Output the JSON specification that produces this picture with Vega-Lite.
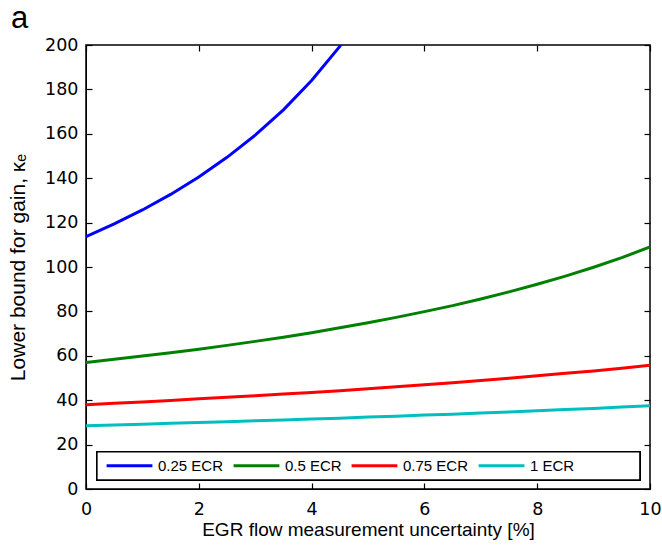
{
  "$schema": "https://vega.github.io/schema/vega-lite/v6.json",
  "autosize": "none",
  "padding": {"left": 86, "top": 45, "right": 12, "bottom": 63},
  "width": 564,
  "height": 444,
  "title": {"text": "a", "anchor": "start", "frame": "group", "dx": -75, "dy": 29, "offset": 0, "fontSize": 31, "fontWeight": "normal", "font": "Liberation Sans", "color": "black"},
  "config": {
    "view": {"stroke": "black", "strokeWidth": 1.5},
    "font": "Liberation Sans",
    "axis": {"grid": false, "labelFlush": false, "domainColor": "black", "tickColor": "black", "tickSize": -6, "tickWidth": 1.2, "labelFontSize": 17.5, "labelColor": "black", "titleFontSize": 19, "titleFontWeight": "normal", "titleColor": "black", "labelFont": "DejaVu Sans", "titleFont": "Liberation Sans"}
  },
  "data": {"values": [
    {"x":0,"k":113.7,"s":"0.25 ECR"},{"x":0.5,"k":119.4,"s":"0.25 ECR"},{"x":1,"k":125.7,"s":"0.25 ECR"},{"x":1.5,"k":132.7,"s":"0.25 ECR"},{"x":2,"k":140.5,"s":"0.25 ECR"},{"x":2.5,"k":149.4,"s":"0.25 ECR"},{"x":3,"k":159.4,"s":"0.25 ECR"},{"x":3.5,"k":170.8,"s":"0.25 ECR"},{"x":4,"k":184.0,"s":"0.25 ECR"},{"x":4.5,"k":199.4,"s":"0.25 ECR"},{"x":5,"k":217.6,"s":"0.25 ECR"},
    {"x":0,"k":57.0,"s":"0.5 ECR"},{"x":0.5,"k":58.4,"s":"0.5 ECR"},{"x":1,"k":59.9,"s":"0.5 ECR"},{"x":1.5,"k":61.4,"s":"0.5 ECR"},{"x":2,"k":63.0,"s":"0.5 ECR"},{"x":2.5,"k":64.7,"s":"0.5 ECR"},{"x":3,"k":66.5,"s":"0.5 ECR"},{"x":3.5,"k":68.4,"s":"0.5 ECR"},{"x":4,"k":70.4,"s":"0.5 ECR"},{"x":4.5,"k":72.6,"s":"0.5 ECR"},{"x":5,"k":74.9,"s":"0.5 ECR"},{"x":5.5,"k":77.3,"s":"0.5 ECR"},{"x":6,"k":79.9,"s":"0.5 ECR"},{"x":6.5,"k":82.6,"s":"0.5 ECR"},{"x":7,"k":85.6,"s":"0.5 ECR"},{"x":7.5,"k":88.8,"s":"0.5 ECR"},{"x":8,"k":92.2,"s":"0.5 ECR"},{"x":8.5,"k":95.9,"s":"0.5 ECR"},{"x":9,"k":99.9,"s":"0.5 ECR"},{"x":9.5,"k":104.2,"s":"0.5 ECR"},{"x":10,"k":109.0,"s":"0.5 ECR"},
    {"x":0,"k":38.0,"s":"0.75 ECR"},{"x":0.5,"k":38.6,"s":"0.75 ECR"},{"x":1,"k":39.2,"s":"0.75 ECR"},{"x":1.5,"k":39.9,"s":"0.75 ECR"},{"x":2,"k":40.6,"s":"0.75 ECR"},{"x":2.5,"k":41.3,"s":"0.75 ECR"},{"x":3,"k":42.0,"s":"0.75 ECR"},{"x":3.5,"k":42.8,"s":"0.75 ECR"},{"x":4,"k":43.5,"s":"0.75 ECR"},{"x":4.5,"k":44.3,"s":"0.75 ECR"},{"x":5,"k":45.2,"s":"0.75 ECR"},{"x":5.5,"k":46.1,"s":"0.75 ECR"},{"x":6,"k":47.0,"s":"0.75 ECR"},{"x":6.5,"k":47.9,"s":"0.75 ECR"},{"x":7,"k":48.9,"s":"0.75 ECR"},{"x":7.5,"k":49.9,"s":"0.75 ECR"},{"x":8,"k":51.0,"s":"0.75 ECR"},{"x":8.5,"k":52.1,"s":"0.75 ECR"},{"x":9,"k":53.2,"s":"0.75 ECR"},{"x":9.5,"k":54.4,"s":"0.75 ECR"},{"x":10,"k":55.7,"s":"0.75 ECR"},
    {"x":0,"k":28.5,"s":"1 ECR"},{"x":0.5,"k":28.8,"s":"1 ECR"},{"x":1,"k":29.2,"s":"1 ECR"},{"x":1.5,"k":29.6,"s":"1 ECR"},{"x":2,"k":29.9,"s":"1 ECR"},{"x":2.5,"k":30.3,"s":"1 ECR"},{"x":3,"k":30.7,"s":"1 ECR"},{"x":3.5,"k":31.1,"s":"1 ECR"},{"x":4,"k":31.5,"s":"1 ECR"},{"x":4.5,"k":31.9,"s":"1 ECR"},{"x":5,"k":32.4,"s":"1 ECR"},{"x":5.5,"k":32.8,"s":"1 ECR"},{"x":6,"k":33.3,"s":"1 ECR"},{"x":6.5,"k":33.7,"s":"1 ECR"},{"x":7,"k":34.2,"s":"1 ECR"},{"x":7.5,"k":34.7,"s":"1 ECR"},{"x":8,"k":35.2,"s":"1 ECR"},{"x":8.5,"k":35.8,"s":"1 ECR"},{"x":9,"k":36.3,"s":"1 ECR"},{"x":9.5,"k":36.9,"s":"1 ECR"},{"x":10,"k":37.5,"s":"1 ECR"}
  ]},
  "layer": [
    {
      "mark": {"type": "rect", "fill": "white", "stroke": "black", "strokeWidth": 1.3},
      "encoding": {
        "x": {"datum": 0.195, "type": "quantitative", "axis": null},
        "x2": {"datum": 9.82},
        "y": {"datum": 4.05, "type": "quantitative", "axis": null},
        "y2": {"datum": 16.7}
      }
    },
    {
      "mark": {"type": "line", "strokeWidth": 3, "clip": true},
      "encoding": {
        "x": {"field": "x", "type": "quantitative", "scale": {"domain": [0, 10], "nice": false}, "axis": {"title": "EGR flow measurement uncertainty [%]", "values": [0,2,4,6,8,10], "labelPadding": 17, "titlePadding": 3}},
        "y": {"field": "k", "type": "quantitative", "scale": {"domain": [0, 200], "nice": false}, "axis": {"title": "Lower bound for gain, κₑ", "titleFontSize": 21, "values": [0,20,40,60,80,100,120,140,160,180,200], "labelPadding": 14, "titlePadding": 16}},
        "color": {"field": "s", "type": "nominal", "scale": {"domain": ["0.25 ECR","0.5 ECR","0.75 ECR","1 ECR"], "range": ["#0000ff","#008000","#ff0000","#00bfbf"]},
          "legend": {"title": null, "orient": "none", "legendX": 19, "legendY": 396, "direction": "horizontal", "columns": 4, "symbolType": "stroke", "symbolSize": 2100, "symbolStrokeWidth": 3, "labelFontSize": 15, "labelColor": "black", "labelFont": "Liberation Sans", "padding": 0, "columnPadding": 3, "labelOffset": 4}}
      }
    },
    {
      "mark": {"type": "line", "opacity": 0},
      "encoding": {
        "x": {"field": "x", "type": "quantitative", "axis": {"orient": "top", "labels": false, "title": null, "domain": false, "values": [0,2,4,6,8,10]}},
        "y": {"field": "k", "type": "quantitative", "axis": {"orient": "right", "labels": false, "title": null, "domain": false, "values": [0,20,40,60,80,100,120,140,160,180,200]}},
        "detail": {"field": "s"}
      }
    }
  ],
  "resolve": {"axis": {"x": "independent", "y": "independent"}}
}
